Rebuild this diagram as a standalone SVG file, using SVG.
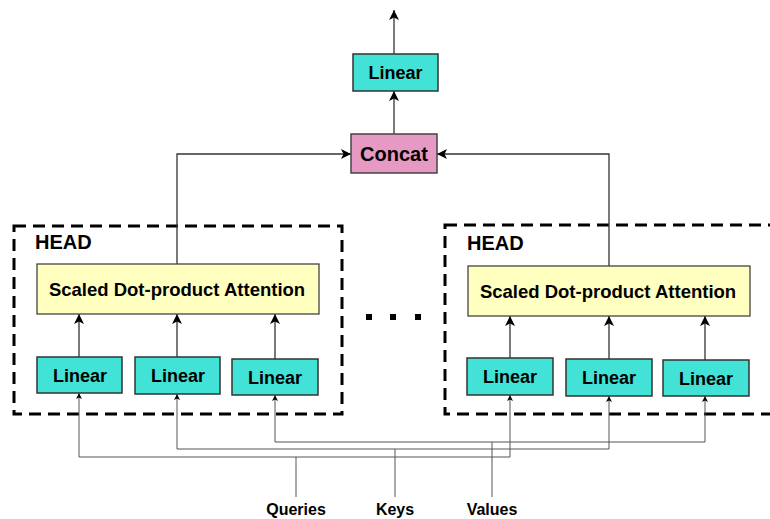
<svg xmlns="http://www.w3.org/2000/svg" width="770" height="519" viewBox="0 0 770 519">
<style>
.lin{fill:#42E3D6;stroke:#333;stroke-width:1.5}
.sdpa{fill:#FFFFC0;stroke:#444;stroke-width:1.3}
.cat{fill:#E699C2;stroke:#444;stroke-width:1.5}
.head{fill:none;stroke:#000;stroke-width:3;stroke-dasharray:12 7}
.t{font-family:"Liberation Sans",Arial,sans-serif;font-weight:bold;fill:#000;text-anchor:middle}
.c{fill:none;stroke:#333;stroke-width:1.3}
.b{fill:none;stroke:#555;stroke-width:1}
</style>
<defs>
<marker id="ah" viewBox="0 0 10 10" refX="10" refY="5" markerWidth="11" markerHeight="10" markerUnits="userSpaceOnUse" orient="auto"><path d="M0,0 L10,5 L0,10 L2.5,5 z" fill="#000"/></marker>
<marker id="as" viewBox="0 0 10 10" refX="10" refY="5" markerWidth="8" markerHeight="6" markerUnits="userSpaceOnUse" orient="auto"><path d="M0,0 L10,5 L0,10 L2.5,5 z" fill="#000"/></marker>
</defs>
<g id="head-left"><rect class="head" x="14" y="226" width="328" height="188"/><text class="t" x="35" y="249" font-size="20" style="text-anchor:start">HEAD</text></g>
<g id="head-right"><rect class="head" x="445" y="225" width="345" height="189"/><text class="t" x="467" y="250" font-size="20" style="text-anchor:start">HEAD</text></g>
<g id="connectors">
<path class="c" d="M394,54 V10" marker-end="url(#ah)"/>
<path class="c" d="M394,134 V91" marker-end="url(#ah)"/>
<path class="c" d="M177,264 V154 H351" marker-end="url(#ah)"/>
<path class="c" d="M609,266 V154 H437" marker-end="url(#ah)"/>
<path class="c" d="M79,357 V314" marker-end="url(#ah)"/>
<path class="c" d="M177,357 V314" marker-end="url(#ah)"/>
<path class="c" d="M275,359 V314" marker-end="url(#ah)"/>
<path class="c" d="M510,358 V316" marker-end="url(#ah)"/>
<path class="c" d="M609,359 V316" marker-end="url(#ah)"/>
<path class="c" d="M705,360 V316" marker-end="url(#ah)"/>
<path class="b" d="M296,497 V457 M79,457 H510"/>
<path class="b" d="M79,457 V393" marker-end="url(#as)"/>
<path class="b" d="M510,457 V395" marker-end="url(#as)"/>
<path class="b" d="M395,497 V449 M177,449 H609"/>
<path class="b" d="M177,449 V394" marker-end="url(#as)"/>
<path class="b" d="M609,449 V396" marker-end="url(#as)"/>
<path class="b" d="M492,497 V442 M275,442 H705"/>
<path class="b" d="M275,442 V395" marker-end="url(#as)"/>
<path class="b" d="M705,442 V396" marker-end="url(#as)"/>
</g>
<g id="linear-top"><rect class="lin" x="353" y="54" width="85" height="37"/><text class="t" x="395.5" y="79" font-size="18">Linear</text></g>
<g id="concat"><rect class="cat" x="351" y="134" width="86" height="39"/><text class="t" x="394" y="161" font-size="20">Concat</text></g>
<g id="sdpa-left"><rect class="sdpa" x="37" y="264" width="282" height="50"/><text class="t" x="177" y="296" font-size="18.5">Scaled Dot-product Attention</text></g>
<g id="sdpa-right"><rect class="sdpa" x="468" y="266" width="282" height="50"/><text class="t" x="608" y="298" font-size="18.5">Scaled Dot-product Attention</text></g>
<g id="lin-l1"><rect class="lin" x="37" y="357" width="85" height="36"/><text class="t" x="80" y="381.5" font-size="18">Linear</text></g>
<g id="lin-l2"><rect class="lin" x="135" y="357" width="85" height="37"/><text class="t" x="178" y="382" font-size="18">Linear</text></g>
<g id="lin-l3"><rect class="lin" x="232" y="359" width="86" height="36"/><text class="t" x="275" y="383.5" font-size="18">Linear</text></g>
<g id="lin-r1"><rect class="lin" x="467" y="358" width="86" height="37"/><text class="t" x="510" y="383" font-size="18">Linear</text></g>
<g id="lin-r2"><rect class="lin" x="566" y="359" width="86" height="37"/><text class="t" x="609" y="384" font-size="18">Linear</text></g>
<g id="lin-r3"><rect class="lin" x="663" y="360" width="86" height="36"/><text class="t" x="706" y="384.5" font-size="18">Linear</text></g>
<g id="ellipsis" fill="#000"><rect x="366" y="314" width="6" height="6"/><rect x="390" y="314" width="6" height="6"/><rect x="415" y="314" width="6" height="6"/></g>
<g id="labels">
<text class="t" x="296" y="515" font-size="16">Queries</text>
<text class="t" x="395" y="515" font-size="16">Keys</text>
<text class="t" x="492" y="515" font-size="16">Values</text>
</g>
</svg>
